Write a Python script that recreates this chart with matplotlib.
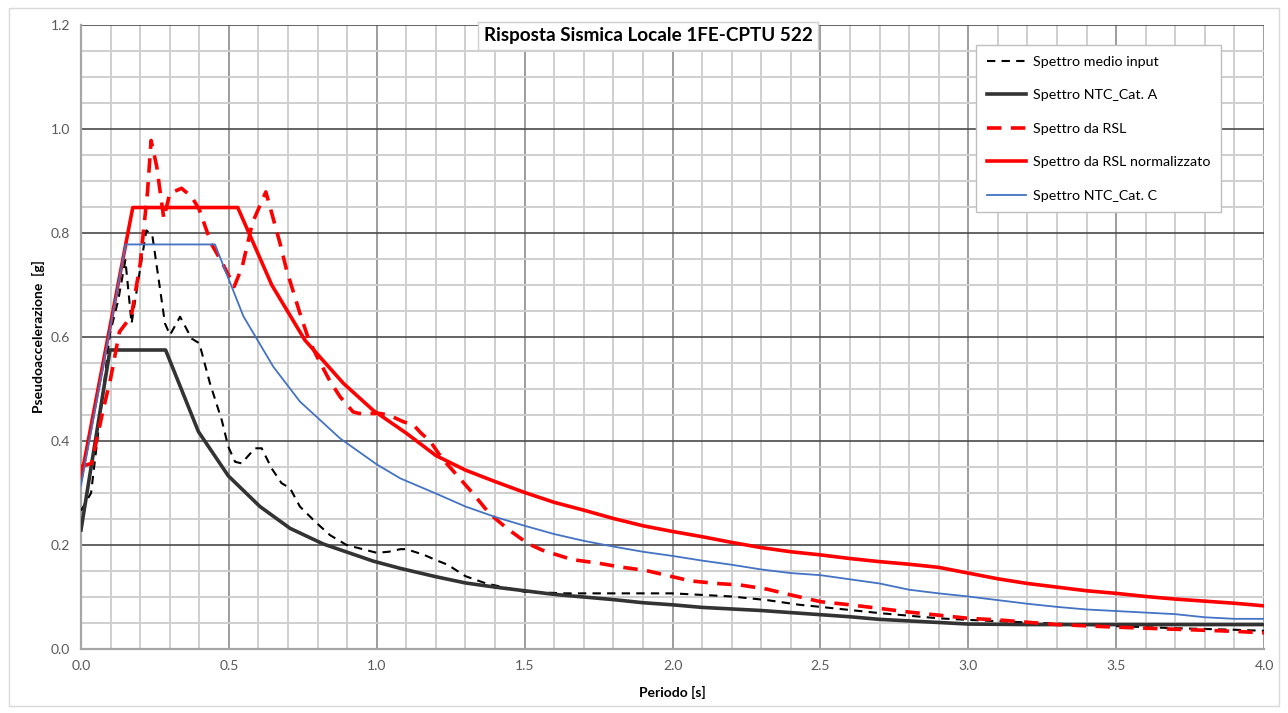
import matplotlib
matplotlib.use("Agg")
import matplotlib.pyplot as plt
from matplotlib.patches import Rectangle
from matplotlib.ticker import MultipleLocator

plt.rcParams['font.family'] = ['Lato', 'DejaVu Sans']

# ---- data ----
T_medio = [0, 0.034, 0.098, 0.126, 0.15, 0.171, 0.194, 0.221, 0.241, 0.284, 0.301, 0.335,
           0.374, 0.40, 0.436, 0.476, 0.498, 0.521, 0.543, 0.588, 0.611, 0.645, 0.678, 0.707,
           0.74, 0.797, 0.842, 0.898, 1.0, 1.04, 1.08, 1.1, 1.16, 1.2, 1.24, 1.3, 1.37, 1.5,
           1.64, 2.0, 2.2, 2.32, 2.43, 2.5, 2.7, 2.9, 3.0, 3.2, 3.5, 3.7, 3.9, 4.0]
SA_medio = [0.266, 0.30, 0.607, 0.671, 0.748, 0.626, 0.71, 0.805, 0.796, 0.626, 0.604, 0.639,
            0.597, 0.588, 0.511, 0.44, 0.389, 0.36, 0.357, 0.386, 0.386, 0.347, 0.319, 0.309,
            0.274, 0.242, 0.219, 0.20, 0.185, 0.187, 0.192, 0.192, 0.181, 0.171, 0.162, 0.140,
            0.126, 0.110, 0.107, 0.107, 0.101, 0.094, 0.085, 0.081, 0.069, 0.059, 0.056, 0.051,
            0.044, 0.040, 0.037, 0.035]

T_ntcA = [0, 0.098, 0.286, 0.397, 0.498, 0.605, 0.707, 0.819, 0.988, 1.08, 1.2, 1.3, 1.4, 1.5,
          1.6, 1.7, 1.8, 1.9, 2.0, 2.1, 2.2, 2.3, 2.4, 2.5, 2.6, 2.7, 2.8, 2.9, 3.0, 3.2, 3.5, 4.0]
SA_ntcA = [0.229, 0.575, 0.575, 0.418, 0.333, 0.274, 0.232, 0.202, 0.169, 0.155, 0.139, 0.127,
           0.119, 0.112, 0.105, 0.100, 0.095, 0.089, 0.085, 0.080, 0.077, 0.074, 0.070, 0.066,
           0.062, 0.057, 0.054, 0.051, 0.048, 0.047, 0.047, 0.047]

T_rsl = [0, 0.036, 0.075, 0.1, 0.13, 0.17, 0.2, 0.225, 0.237, 0.256, 0.28, 0.30, 0.34, 0.375,
         0.40, 0.44, 0.48, 0.518, 0.545, 0.58, 0.625, 0.645, 0.673, 0.695, 0.74, 0.77, 0.80,
         0.84, 0.876, 0.92, 0.94, 1.01, 1.04, 1.09, 1.124, 1.15, 1.18, 1.22, 1.27, 1.33, 1.38,
         1.44, 1.51, 1.56, 1.66, 1.75, 1.82, 1.91, 2.0, 2.06, 2.15, 2.23, 2.32, 2.4, 2.5, 2.6,
         2.8, 3.0, 3.1, 3.3, 3.5, 3.7, 3.9, 4.0]
SA_rsl = [0.351, 0.357, 0.46, 0.52, 0.61, 0.64, 0.74, 0.88, 0.978, 0.928, 0.828, 0.876, 0.886,
          0.869, 0.845, 0.78, 0.74, 0.697, 0.735, 0.82, 0.879, 0.838, 0.78, 0.729, 0.646, 0.595,
          0.56, 0.517, 0.485, 0.456, 0.453, 0.453, 0.45, 0.437, 0.431, 0.415, 0.40, 0.367, 0.335,
          0.296, 0.261, 0.232, 0.203, 0.19, 0.172, 0.165, 0.158, 0.151, 0.139, 0.131, 0.126,
          0.123, 0.115, 0.104, 0.091, 0.085, 0.071, 0.059, 0.056, 0.047, 0.042, 0.038, 0.034,
          0.031]

T_norm = [0, 0.175, 0.53, 0.645, 0.757, 0.887, 0.988, 1.1, 1.2, 1.3, 1.4, 1.5, 1.6, 1.7, 1.8,
          1.9, 2.0, 2.1, 2.2, 2.3, 2.4, 2.5, 2.6, 2.7, 2.8, 2.9, 3.0, 3.1, 3.2, 3.3, 3.4, 3.5,
          3.6, 3.7, 3.8, 3.9, 4.0]
SA_norm = [0.328, 0.849, 0.849, 0.70, 0.594, 0.511, 0.459, 0.415, 0.372, 0.344, 0.322, 0.301,
           0.282, 0.267, 0.251, 0.237, 0.226, 0.216, 0.205, 0.195, 0.187, 0.181, 0.174, 0.168,
           0.163, 0.157, 0.146, 0.135, 0.126, 0.119, 0.112, 0.107, 0.101, 0.096, 0.092, 0.088,
           0.083]

T_ntcC = [0, 0.151, 0.453, 0.549, 0.65, 0.74, 0.876, 1.0, 1.08, 1.2, 1.3, 1.4, 1.5, 1.6, 1.7,
          1.8, 1.9, 2.0, 2.1, 2.2, 2.3, 2.4, 2.5, 2.6, 2.7, 2.8, 2.9, 3.0, 3.1, 3.2, 3.3, 3.4,
          3.5, 3.6, 3.7, 3.8, 3.9, 4.0]
SA_ntcC = [0.314, 0.778, 0.778, 0.64, 0.543, 0.476, 0.405, 0.355, 0.328, 0.299, 0.274, 0.254,
           0.237, 0.221, 0.208, 0.197, 0.187, 0.179, 0.170, 0.162, 0.153, 0.146, 0.142, 0.134,
           0.126, 0.114, 0.107, 0.101, 0.094, 0.087, 0.081, 0.076, 0.073, 0.070, 0.067, 0.061,
           0.058, 0.058]

labels = ["Spettro medio input", "Spettro NTC_Cat. A", "Spettro da RSL",
          "Spettro da RSL normalizzato", "Spettro NTC_Cat. C"]
title = "Risposta Sismica Locale 1FE-CPTU 522"

# ---- figure ----
fig = plt.figure(figsize=(12.88, 7.13), dpi=100)
fig.patch.set_facecolor('white')
fig.patches.append(Rectangle((9 / 1288, 1 - 706 / 713), 1270 / 1288, 698 / 713,
                             transform=fig.transFigure, fill=False,
                             edgecolor='#D9D9D9', lw=1.0))

ax = fig.add_axes([81 / 1288, 1 - 649 / 713, (1264 - 81) / 1288, (649 - 25) / 713])

ax.set_xlim(0, 4)
ax.set_ylim(0, 1.2)
ax.xaxis.set_major_locator(MultipleLocator(0.5))
ax.xaxis.set_minor_locator(MultipleLocator(0.1))
ax.yaxis.set_major_locator(MultipleLocator(0.2))
ax.yaxis.set_minor_locator(MultipleLocator(0.05))
ax.xaxis.set_major_formatter(matplotlib.ticker.FormatStrFormatter('%.1f'))
ax.yaxis.set_major_formatter(matplotlib.ticker.FormatStrFormatter('%.1f'))

ax.grid(which='minor', axis='both', color='#CFCFCF', lw=1.4, zorder=0)
ax.grid(which='major', axis='x', color='#8C8C8C', lw=1.2, zorder=0)
ax.grid(which='major', axis='y', color='#4A4A4A', lw=1.2, zorder=0)
ax.set_axisbelow(True)

for s in ['top', 'right']:
    ax.spines[s].set_visible(False)
for s in ['left', 'bottom']:
    ax.spines[s].set_color('#A6A6A6')
    ax.spines[s].set_linewidth(1.6)

ax.tick_params(which='both', length=0, colors='#595959', labelsize=10, pad=8)

l1, = ax.plot(T_medio, SA_medio, color='black', lw=1.5, ls=(0, (4, 3)), label=labels[0], zorder=3)
l2, = ax.plot(T_ntcA, SA_ntcA, color='#333333', lw=2.6, label=labels[1], zorder=3)
l3, = ax.plot(T_rsl, SA_rsl, color='#FF0000', lw=2.6, ls=(0, (4, 2.6)), label=labels[2], zorder=3)
l4, = ax.plot(T_norm, SA_norm, color='#FF0000', lw=2.6, label=labels[3], zorder=3)
l5, = ax.plot(T_ntcC, SA_ntcC, color='#4472C4', lw=1.3, label=labels[4], zorder=3)

ax.set_xlabel("Periodo [s]", fontsize=10, fontweight='bold', labelpad=10)
ax.set_ylabel("Pseudoaccelerazione  [g]", fontsize=10, fontweight='bold', labelpad=4)

leg = ax.legend(loc='upper right', bbox_to_anchor=(0.9637, 0.968), borderaxespad=0,
                fontsize=10.3, labelspacing=1.5, handlelength=2.75, handletextpad=0.45,
                borderpad=0.75, fancybox=False, framealpha=1, edgecolor='#BFBFBF')
leg.get_frame().set_linewidth(1.0)

fig.text(648 / 1288, 1 - 36 / 713, title, ha='center', va='center', fontsize=13.6,
         fontweight='bold', color='black', zorder=10,
         bbox=dict(boxstyle='square,pad=0.3', facecolor='white', edgecolor='#D0D0D0', lw=1))

fig.savefig("out.png", dpi=100)
